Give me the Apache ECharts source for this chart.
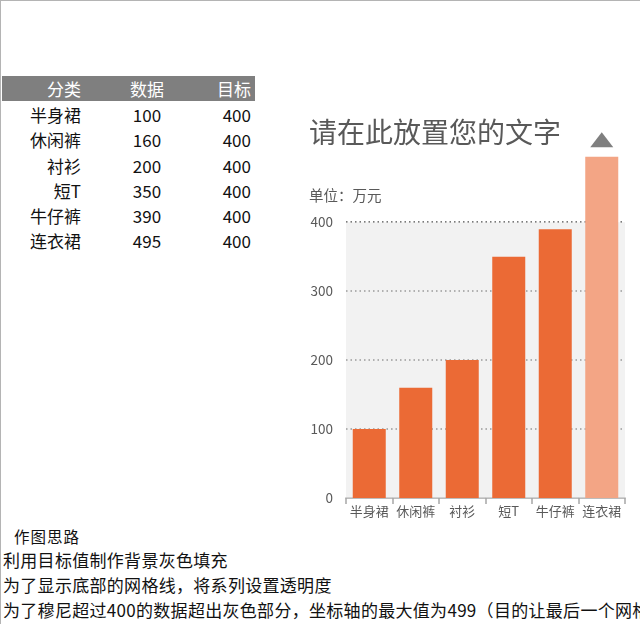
<!DOCTYPE html>
<html>
<head>
<meta charset="utf-8">
<script src="https://cdn.jsdelivr.net/npm/echarts@6/dist/echarts.min.js"></script>
<style>
  html, body { margin: 0; padding: 0; background: #fff; }
  body { width: 640px; height: 624px; position: relative; overflow: hidden;
         font-family: "Noto Sans CJK SC", sans-serif; }
  #frame { position: absolute; left: 0; top: 0; width: 639px; height: 623px;
           border-left: 1px solid #b4b4b4; border-top: 1px solid #b4b4b4; }
  #table { position: absolute; left: 2px; top: 76px; width: 253px; }
  .row { position: relative; height: 25.3px; font-size: 17px; line-height: 25px; color: #111; }
  .head { background: #7f7f7f; color: #fff; height: 25px; margin-bottom: 1px; line-height: 25px; }
  .c1 { position: absolute; right: 174px; white-space: nowrap; }
  .c2 { position: absolute; left: 105px; width: 80px; text-align: center; }
  .c3 { position: absolute; right: 4px; }
  #notes { position: absolute; left: 3px; top: 525px; width: 637px; color: #111; }
  #notes div { white-space: nowrap; overflow: hidden; font-size: 17px; letter-spacing: 0.3px;
               height: 25px; line-height: 25px; }
  #notes .cap { font-size: 15.5px; letter-spacing: 1px; padding-left: 11px; height: 22px; line-height: 22px; }
  #chart { position: absolute; left: 290px; top: 100px; width: 350px; height: 440px; }
</style>
</head>
<body>
<div id="frame"></div>
<div id="table"></div>
<div id="notes">
  <div class="cap">作图思路</div>
  <div>利用目标值制作背景灰色填充</div>
  <div>为了显示底部的网格线，将系列设置透明度</div>
  <div>为了穆尼超过400的数据超出灰色部分，坐标轴的最大值为499（目的让最后一个网格线不显示）</div>
</div>
<div id="chart"></div>
<script>
var headers = ['分类', '数据', '目标'];
var categories = ['半身裙', '休闲裤', '衬衫', '短T', '牛仔裤', '连衣裙'];
var values = [100, 160, 200, 350, 390, 495];
var targets = [400, 400, 400, 400, 400, 400];
var yMax = 499;

// 左边的数据表
var tableHtml = '<div class="row head"><span class="c1">' + headers[0] + '</span><span class="c2">' +
  headers[1] + '</span><span class="c3">' + headers[2] + '</span></div>';
for (var i = 0; i < categories.length; i++) {
  tableHtml += '<div class="row"><span class="c1">' + categories[i] + '</span><span class="c2">' +
    values[i] + '</span><span class="c3">' + targets[i] + '</span></div>';
}
document.getElementById('table').innerHTML = tableHtml;

var chart = echarts.init(document.getElementById('chart'));

// 超过目标的柱子用浅色
var barData = values.map(function (v, i) {
  return {
    value: v,
    itemStyle: { color: v > targets[i] ? '#f3a585' : '#eb6a35' }
  };
});

var option = {
  animation: false,
  textStyle: { fontFamily: 'Noto Sans CJK SC' },
  title: [{
    text: '请在此放置您的文字',
    left: 14,
    top: 13,
    textStyle: { fontSize: 28, fontWeight: 'normal', color: '#595959' }
  }, {
    text: '单位：万元',
    left: 14,
    top: 83,
    textStyle: { fontSize: 14.5, fontWeight: 'normal', color: '#595959' }
  }],
  grid: { left: 56, right: 15, top: 54, bottom: 42 },
  xAxis: [{
    type: 'category',
    data: categories,
    axisLine: { lineStyle: { color: '#a6a6a6', width: 1.5 } },
    axisTick: { show: true, length: 6, lineStyle: { color: '#a6a6a6', width: 1.5 } },
    axisLabel: { interval: 0, fontSize: 13, color: '#595959', margin: 7 }
  }, {
    type: 'category',
    data: categories,
    show: false
  }],
  yAxis: {
    type: 'value',
    min: 0,
    max: yMax,
    interval: 100,
    axisLine: { show: false },
    axisTick: { show: false },
    axisLabel: { fontSize: 13.5, color: '#595959', margin: 13, showMaxLabel: false },
    splitLine: {
      showMinLine: false,
      showMaxLine: false,
      lineStyle: { type: [1.5, 3], color: '#7a7a7a', width: 1.8 }
    }
  },
  series: [{
    name: '目标',
    type: 'bar',
    xAxisIndex: 1,
    barWidth: '100%',
    data: targets,
    itemStyle: { color: '#e6e6e6', opacity: 0.5 },
    silent: true
  }, {
    name: '数据',
    type: 'bar',
    xAxisIndex: 0,
    barWidth: 33,
    data: barData,
    markPoint: {
      symbol: 'triangle',
      symbolSize: [23, 15],
      symbolOffset: [0, -17],
      itemStyle: { color: '#7f7f7f' },
      label: { show: false },
      data: [{ type: 'max' }]
    }
  }]
};
chart.setOption(option);
</script>
</body>
</html>
